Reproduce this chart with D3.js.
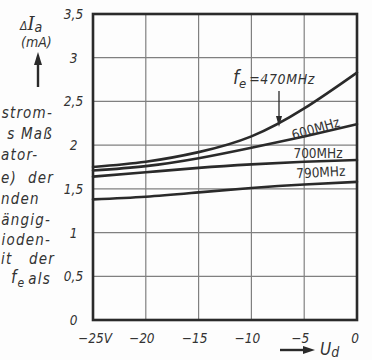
<!DOCTYPE html>
<html>
<head>
<meta charset="utf-8">
<script src="https://cdn.jsdelivr.net/npm/d3@7"></script>
<style>
  html, body { margin: 0; padding: 0; background: #fdfdfd; }
  svg { display: block; }
  text { font-family: "DejaVu Sans Condensed", "DejaVu Sans", sans-serif; fill: #333; }
</style>
</head>
<body>
<svg id="chart" width="372" height="360"></svg>
<script>
// Diode voltage U_d (V) and anode current change ΔI_a (mA) per input frequency f_e
const voltages = [-25, -20, -15, -10, -5, 0];
const f470 = [1.75, 1.81, 1.92, 2.10, 2.42, 2.83];
const f600 = [1.71, 1.76, 1.85, 1.97, 2.10, 2.24];
const f700 = [1.64, 1.69, 1.74, 1.78, 1.81, 1.83];
const f790 = [1.38, 1.41, 1.46, 1.51, 1.55, 1.58];
const seriesNames = ["470MHz", "600MHz", "700MHz", "790MHz"];

const xTicks = [-25, -20, -15, -10, -5, 0];
const xTickLabels = ["−25V", "−20", "−15", "−10", "−5", "0"];
const yTicks = [0, 0.5, 1, 1.5, 2, 2.5, 3, 3.5];
const yTickLabels = ["0", "0,5", "1", "1,5", "2", "2,5", "3", "3,5"];

// Side text of the surrounding page column
const sideLines = ["strom-", "s Maß", "ator-", "e)  der", "nden", "ängig-", "ioden-", "it   der", "als"];

const svg = d3.select("#chart");
const margin = { left: 93, top: 14, right: 15, bottom: 40 };
const W = 372, H = 360;
const x = d3.scaleLinear().domain([-25, 0]).range([margin.left, W - margin.right]);
const y = d3.scaleLinear().domain([0, 3.5]).range([H - margin.bottom, margin.top]);

const ink = "#2a2a2a";
const gridInk = "#808080";

// grid
const g = svg.append("g");
g.selectAll("line.vx").data(xTicks.slice(1, -1)).join("line")
  .attr("x1", d => x(d)).attr("x2", d => x(d))
  .attr("y1", y(0)).attr("y2", y(3.5))
  .attr("stroke", gridInk).attr("stroke-width", 1.2);
g.selectAll("line.hy").data(yTicks.slice(1, -1)).join("line")
  .attr("y1", d => y(d)).attr("y2", d => y(d))
  .attr("x1", x(-25)).attr("x2", x(0))
  .attr("stroke", gridInk).attr("stroke-width", 1.2);

// curves
const table = [f470, f600, f700, f790].map((vals, i) => ({
  name: seriesNames[i],
  pts: voltages.map((u, j) => ({ u, v: vals[j] }))
}));
const line = d3.line().x(d => x(d.u)).y(d => y(d.v)).curve(d3.curveNatural);
svg.append("g").selectAll("path").data(table).join("path")
  .attr("d", d => line(d.pts))
  .attr("fill", "none").attr("stroke", ink).attr("stroke-width", 2.6)
  .attr("stroke-linecap", "round");

// frame
svg.append("rect")
  .attr("x", x(-25)).attr("y", y(3.5))
  .attr("width", x(0) - x(-25)).attr("height", y(0) - y(3.5))
  .attr("fill", "none").attr("stroke", ink).attr("stroke-width", 2.6);

// y tick labels
svg.append("g").selectAll("text").data(yTicks).join("text")
  .attr("x", 73.5).attr("y", d => y(d) + 5)
  .attr("text-anchor", "middle").attr("font-style", "italic").attr("font-size", 13.5)
  .text((d, i) => yTickLabels[i]);

// x tick labels
const xShift = (d, i) => (i === 0 ? 2 : d === 0 ? -2 : -4);
svg.append("g").selectAll("text").data(xTicks).join("text")
  .attr("x", (d, i) => x(d) + xShift(d, i)).attr("y", 343)
  .attr("text-anchor", "middle").attr("font-style", "italic").attr("font-size", 13.5)
  .text((d, i) => xTickLabels[i]);

// y axis title with arrow
const yt = svg.append("text").attr("x", 20).attr("y", 30).attr("font-style", "italic");
yt.append("tspan").attr("font-size", 12).text("Δ");
yt.append("tspan").attr("font-size", 18).attr("font-family", "DejaVu Serif, serif").text("I");
yt.append("tspan").attr("font-size", 14).attr("dy", 2).text("a");
svg.append("text").attr("x", 21).attr("y", 47).attr("font-style", "italic").attr("font-size", 14).text("(mA)");
svg.append("line").attr("x1", 38).attr("x2", 38).attr("y1", 87).attr("y2", 62)
  .attr("stroke", ink).attr("stroke-width", 2.4);
svg.append("path").attr("d", "M38,52 L42,65 L34,65 Z").attr("fill", ink);

// x axis title with arrow
svg.append("line").attr("x1", 280).attr("x2", 305).attr("y1", 350).attr("y2", 350)
  .attr("stroke", ink).attr("stroke-width", 2.4);
svg.append("path").attr("d", "M315,350 L303,346 L303,354 Z").attr("fill", ink);
const xt = svg.append("text").attr("x", 320).attr("y", 355).attr("font-style", "italic");
xt.append("tspan").attr("font-size", 17).text("U");
xt.append("tspan").attr("font-size", 14).attr("dy", 2).text("d");

// curve labels
const lab = svg.append("g").attr("font-size", 13.5);
const fe = lab.append("text").attr("x", 233).attr("y", 84).attr("font-style", "italic");
fe.append("tspan").attr("font-size", 19).text("f");
fe.append("tspan").attr("font-size", 13).attr("dy", 4).text("e");
fe.append("tspan").attr("dy", -4).attr("dx", 3).attr("font-size", 14).attr("letter-spacing", 0.6)
  .text("=" + seriesNames[0]);
svg.append("line").attr("x1", 279).attr("x2", 279).attr("y1", 91).attr("y2", 118)
  .attr("stroke", ink).attr("stroke-width", 1.3);
svg.append("path").attr("d", "M279,127 L276,116 L282,116 Z").attr("fill", ink);

lab.append("text").attr("transform", "translate(317,133) rotate(-16)")
  .attr("text-anchor", "middle").text(seriesNames[1]);
lab.append("text").attr("x", 318).attr("y", 158).attr("text-anchor", "middle").text(seriesNames[2]);
lab.append("text").attr("transform", "translate(321,177) rotate(-3)")
  .attr("text-anchor", "middle").text(seriesNames[3]);

// side column text
const sideY = [118, 139, 160, 183, 204, 225, 245, 264, 284];
const sideEnd = [53, 53, 38, 51, 36, 51, 51, 51, 51];
const side = svg.append("g").attr("font-family", "DejaVu Sans, sans-serif")
  .attr("font-style", "italic").attr("font-size", 15).attr("letter-spacing", 1.2)
  .style("fill", "#3a3a3a");
side.selectAll("text").data(sideLines).join("text")
  .attr("x", (d, i) => sideEnd[i]).attr("y", (d, i) => sideY[i])
  .attr("text-anchor", "end")
  .style("white-space", "pre")
  .text(d => d)
  .each(function () {
    // keep each fragment inside the page
    const b = this.getBBox();
    if (b.x < 1) d3.select(this).attr("x", +d3.select(this).attr("x") + (1 - b.x));
  });
// frequency symbol before "als"
const fs = side.append("text").attr("x", 11).attr("y", 283);
fs.append("tspan").attr("font-size", 17).text("f");
fs.append("tspan").attr("font-size", 12).attr("dy", 4).text("e");
</script>
</body>
</html>
